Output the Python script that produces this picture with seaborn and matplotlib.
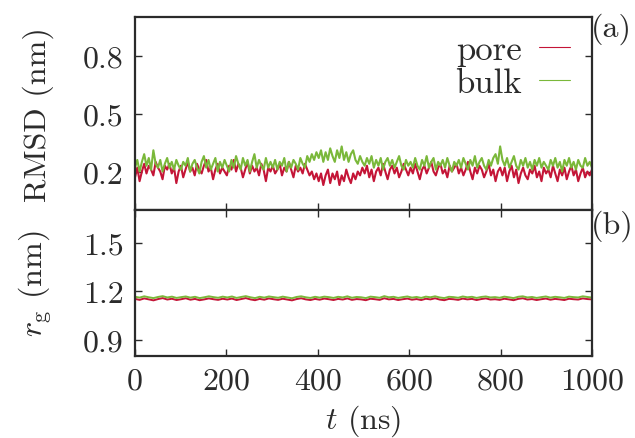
import numpy as np
import pandas as pd
import matplotlib
matplotlib.use("Agg")
import matplotlib.pyplot as plt
import seaborn as sns
from matplotlib.lines import Line2D

# ---------------- data ----------------
rmsd_pore = [
    0.17, 0.22, 0.15, 0.20, 0.24, 0.19, 0.23, 0.21, 0.18, 0.25, 0.22, 0.20, 0.16, 0.23, 0.21, 0.24, 0.19, 0.22, 0.14, 0.20,
    0.23, 0.17, 0.21, 0.25, 0.20, 0.22, 0.18, 0.24, 0.21, 0.19, 0.23, 0.26, 0.20, 0.22, 0.16, 0.21, 0.24, 0.19, 0.22, 0.20,
    0.18, 0.23, 0.21, 0.26, 0.20, 0.24, 0.22, 0.17, 0.21, 0.25, 0.19, 0.23, 0.20, 0.22, 0.18, 0.24, 0.21, 0.15, 0.22, 0.20,
    0.23, 0.19, 0.21, 0.24, 0.18, 0.22, 0.20, 0.25, 0.21, 0.17, 0.23, 0.20, 0.22, 0.19, 0.24, 0.21, 0.18, 0.20, 0.16, 0.19,
    0.15, 0.19, 0.13, 0.18, 0.21, 0.14, 0.19, 0.16, 0.20, 0.13, 0.18, 0.15, 0.21, 0.17, 0.14, 0.19, 0.16, 0.20, 0.18, 0.22,
    0.19, 0.23, 0.17, 0.21, 0.15, 0.20, 0.22, 0.18, 0.24, 0.20, 0.16, 0.21, 0.23, 0.19, 0.22, 0.17, 0.20, 0.24, 0.21, 0.18,
    0.22, 0.19, 0.24, 0.20, 0.16, 0.21, 0.23, 0.19, 0.22, 0.25, 0.20, 0.18, 0.22, 0.24, 0.19, 0.21, 0.17, 0.23, 0.20, 0.22,
    0.24, 0.19, 0.22, 0.18, 0.21, 0.25, 0.20, 0.16, 0.22, 0.19, 0.23, 0.21, 0.17, 0.20, 0.24, 0.18, 0.21, 0.15, 0.20, 0.22,
    0.18, 0.22, 0.15, 0.20, 0.23, 0.17, 0.21, 0.14, 0.19, 0.22, 0.18, 0.16, 0.21, 0.19, 0.23, 0.17, 0.20, 0.15, 0.22, 0.19,
    0.21, 0.17, 0.23, 0.19, 0.15, 0.21, 0.18, 0.22, 0.16, 0.20, 0.23, 0.18, 0.21, 0.15, 0.19, 0.22, 0.17, 0.20, 0.18, 0.21,
]
rmsd_bulk = [
    0.22, 0.26, 0.20, 0.25, 0.29, 0.23, 0.27, 0.21, 0.31, 0.24, 0.22, 0.26, 0.20, 0.24, 0.27, 0.22, 0.25, 0.21, 0.26, 0.23,
    0.21, 0.25, 0.23, 0.27, 0.20, 0.24, 0.26, 0.22, 0.19, 0.25, 0.28, 0.22, 0.26, 0.21, 0.24, 0.27, 0.20, 0.25, 0.22, 0.26,
    0.23, 0.20, 0.26, 0.22, 0.28, 0.24, 0.21, 0.27, 0.23, 0.26, 0.20, 0.25, 0.29, 0.22, 0.26, 0.23, 0.21, 0.27, 0.22, 0.25,
    0.22, 0.26, 0.21, 0.25, 0.23, 0.27, 0.20, 0.25, 0.22, 0.26, 0.24, 0.21, 0.27, 0.24, 0.22, 0.28, 0.25, 0.29, 0.26, 0.30,
    0.27, 0.31, 0.25, 0.30, 0.26, 0.32, 0.28, 0.25, 0.31, 0.27, 0.33, 0.26, 0.30, 0.25, 0.29, 0.31, 0.26, 0.24, 0.28, 0.25,
    0.23, 0.27, 0.24, 0.28, 0.22, 0.26, 0.23, 0.27, 0.21, 0.25, 0.27, 0.23, 0.26, 0.22, 0.25, 0.28, 0.23, 0.21, 0.26, 0.23,
    0.25, 0.22, 0.27, 0.23, 0.21, 0.26, 0.23, 0.28, 0.22, 0.25, 0.27, 0.21, 0.25, 0.23, 0.26, 0.22, 0.27, 0.23, 0.20, 0.25,
    0.23, 0.26, 0.22, 0.27, 0.24, 0.21, 0.26, 0.23, 0.28, 0.22, 0.25, 0.27, 0.23, 0.21, 0.26, 0.23, 0.27, 0.29, 0.24, 0.33,
    0.26, 0.23, 0.27, 0.22, 0.25, 0.28, 0.23, 0.21, 0.26, 0.23, 0.27, 0.22, 0.25, 0.21, 0.26, 0.23, 0.27, 0.22, 0.25, 0.23,
    0.21, 0.26, 0.23, 0.27, 0.22, 0.25, 0.20, 0.26, 0.23, 0.27, 0.22, 0.25, 0.21, 0.26, 0.23, 0.22, 0.27, 0.23, 0.25, 0.22,
]
rg_pore = [
    1.152, 1.146, 1.155, 1.149, 1.143, 1.151, 1.157, 1.148, 1.153, 1.145, 1.150, 1.156, 1.147, 1.152, 1.144, 1.149, 1.155, 1.150, 1.146, 1.153,
    1.148, 1.154, 1.145, 1.151, 1.157, 1.149, 1.144, 1.152, 1.147, 1.155, 1.150, 1.146, 1.153, 1.148, 1.143, 1.151, 1.156, 1.149, 1.145, 1.152,
    1.147, 1.154, 1.150, 1.145, 1.152, 1.148, 1.155, 1.146, 1.151, 1.149, 1.144, 1.153, 1.150, 1.146, 1.156, 1.149, 1.152, 1.145, 1.150, 1.154,
    1.147, 1.151, 1.145, 1.153, 1.149, 1.156, 1.148, 1.144, 1.152, 1.150, 1.146, 1.154, 1.149, 1.152, 1.145, 1.151, 1.155, 1.148, 1.150, 1.146,
    1.153, 1.149, 1.144, 1.152, 1.156, 1.148, 1.151, 1.145, 1.150, 1.154, 1.147, 1.152, 1.149, 1.145, 1.153, 1.150, 1.148, 1.155, 1.151, 1.149,
]
rg_bulk = [
    1.165, 1.160, 1.168, 1.162, 1.157, 1.164, 1.169, 1.161, 1.166, 1.158, 1.163, 1.167, 1.160, 1.165, 1.157, 1.162, 1.168, 1.163, 1.159, 1.166,
    1.161, 1.167, 1.158, 1.164, 1.169, 1.162, 1.157, 1.165, 1.160, 1.167, 1.163, 1.159, 1.166, 1.161, 1.156, 1.164, 1.168, 1.162, 1.158, 1.165,
    1.160, 1.166, 1.163, 1.158, 1.165, 1.161, 1.168, 1.159, 1.164, 1.162, 1.157, 1.166, 1.163, 1.159, 1.169, 1.162, 1.165, 1.158, 1.163, 1.167,
    1.160, 1.164, 1.158, 1.166, 1.162, 1.168, 1.161, 1.157, 1.165, 1.163, 1.159, 1.167, 1.162, 1.165, 1.158, 1.164, 1.167, 1.161, 1.163, 1.159,
    1.166, 1.162, 1.157, 1.165, 1.168, 1.161, 1.164, 1.158, 1.163, 1.167, 1.160, 1.165, 1.162, 1.158, 1.166, 1.163, 1.161, 1.168, 1.164, 1.160,
]
series_labels = ["pore", "bulk"]
x_ticks = [0, 200, 400, 600, 800, 1000]
rmsd_ticks = [0.2, 0.5, 0.8]
rg_ticks = [0.9, 1.2, 1.5]
panel_tags = ["(a)", "(b)"]

t_rmsd = np.linspace(0, 1000, len(rmsd_pore))
t_rg = np.linspace(0, 1000, len(rg_pore))

# ---------------- style ----------------
sns.set_theme(style="ticks")
FS = 23
INK = "#2b2b2b"
plt.rcParams.update({
    "font.family": "serif",
    "font.serif": ["cmr10"],
    "mathtext.fontset": "cm",
    "axes.formatter.use_mathtext": True,
    "axes.unicode_minus": False,
    "font.size": FS,
    "axes.labelsize": FS,
    "xtick.labelsize": FS,
    "ytick.labelsize": FS,
    "legend.fontsize": FS,
    "axes.linewidth": 1.6,
    "axes.edgecolor": INK,
    "axes.labelcolor": INK,
    "xtick.direction": "in",
    "ytick.direction": "in",
    "xtick.major.size": 5,
    "ytick.major.size": 5,
    "xtick.major.width": 1.0,
    "ytick.major.width": 1.0,
    "xtick.color": INK,
    "ytick.color": INK,
    "text.color": INK,
})

RED = "#c41537"
GREEN = "#7ab83a"

fig = plt.figure(figsize=(6.35, 4.39), dpi=100)
ax1 = fig.add_axes([0.2126, 0.519, 0.7197, 0.440])
ax2 = fig.add_axes([0.2126, 0.187, 0.7197, 0.332], sharex=ax1)

df_rmsd = pd.DataFrame({"t": np.concatenate([t_rmsd, t_rmsd]),
                        "v": np.concatenate([rmsd_pore, rmsd_bulk]),
                        "s": [series_labels[0]] * len(rmsd_pore) + [series_labels[1]] * len(rmsd_bulk)})
df_rg = pd.DataFrame({"t": np.concatenate([t_rg, t_rg]),
                      "v": np.concatenate([rg_pore, rg_bulk]),
                      "s": [series_labels[0]] * len(rg_pore) + [series_labels[1]] * len(rg_bulk)})

pal = {series_labels[0]: RED, series_labels[1]: GREEN}
sns.lineplot(data=df_rmsd, x="t", y="v", hue="s", palette=pal, estimator=None,
             lw=1.5, ax=ax1, legend=False)
sns.lineplot(data=df_rg, x="t", y="v", hue="s", palette=pal, estimator=None,
             lw=1.4, ax=ax2, legend=False)

ax1.set_xlim(0, 1000)
ax1.set_ylim(0, 1.0)
ax2.set_ylim(0.8, 1.7)
ax1.set_yticks(rmsd_ticks)
ax1.set_yticklabels([f"{v:.1f}" for v in rmsd_ticks])
ax2.set_yticks(rg_ticks)
ax2.set_yticklabels([f"{v:.1f}" for v in rg_ticks])
ax2.set_xticks(x_ticks)
ax2.set_xticklabels([str(v) for v in x_ticks])

ax1.tick_params(axis="x", labelbottom=False, bottom=True, top=False)
ax1.tick_params(axis="y", left=True, right=True, pad=8, labelsize=FS)
ax2.tick_params(axis="x", bottom=True, top=True, pad=8, labelsize=FS)
ax2.tick_params(axis="y", left=True, right=True, pad=8, labelsize=FS)

ax1.set_xlabel("")
ax1.set_ylabel("RMSD (nm)", fontsize=FS)
ax2.set_ylabel(r"$r_{\rm g}$ (nm)", fontsize=FS)
ax2.set_xlabel(r"$t$ (ns)", fontsize=FS, labelpad=6)
ax1.yaxis.set_label_coords(-0.178, 0.5)
ax2.yaxis.set_label_coords(-0.178, 0.5)

for ax in (ax1, ax2):
    for sp in ax.spines.values():
        sp.set_visible(True)

handles = [Line2D([], [], color=RED, lw=0.8), Line2D([], [], color=GREEN, lw=0.8)]
ax1.legend(handles, series_labels, loc="upper right", bbox_to_anchor=(0.99, 1.0),
           frameon=False, markerfirst=False, handlelength=0.9, handletextpad=0.5,
           labelspacing=0.05, borderaxespad=0.1, fontsize=25)

fig.text(0.93, 0.97, panel_tags[0], ha="left", va="top", fontsize=23)
fig.text(0.93, 0.52, panel_tags[1], ha="left", va="top", fontsize=23)

fig.savefig("out.png", dpi=100)
